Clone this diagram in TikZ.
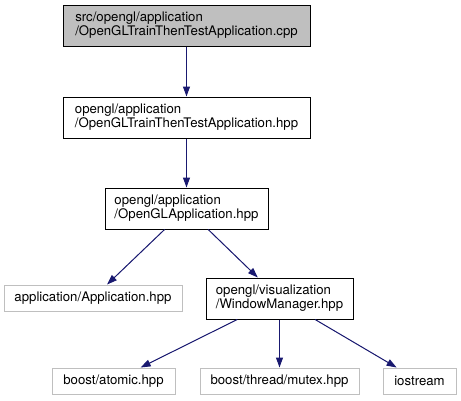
\documentclass[tikz,border=0pt]{standalone}
\usepackage{fontspec}
\setmainfont{TeX Gyre Heros}
\usetikzlibrary{arrows.meta}

\definecolor{edgeblue}{HTML}{191970}
\definecolor{graybox}{HTML}{BFBFBF}

\begin{document}
\begin{tikzpicture}[
  x=1pt, y=-1pt,
  >={Stealth[length=10pt,width=7pt,inset=0pt]},
  every node/.style={font=\fontsize{13.2}{14}\selectfont},
  file/.style={draw, line width=1pt, inner sep=0pt, align=left,
               minimum height=41pt},
  ext/.style={draw=graybox, line width=1pt, inner sep=0pt,
              minimum height=26pt},
  dep/.style={->, draw=edgeblue, fill=edgeblue, line width=1pt},
]
\useasboundingbox (0,0) rectangle (461,400);

% main chain
\node[file, fill=graybox, minimum width=247pt] (cpp) at (186.5, 25.5)
  {src/opengl/application\\/OpenGLTrainThenTestApplication.cpp};
\node[file, minimum width=247pt] (hpp) at (186.5, 117.5)
  {opengl/application\\/OpenGLTrainThenTestApplication.hpp};
\node[file, minimum width=163pt] (glapp) at (186.5, 208.5)
  {opengl/application\\/OpenGLApplication.hpp};

% second level
\node[ext, minimum width=178pt] (app) at (93, 298) {application/Application.hpp};
\node[file, minimum width=147pt] (winmgr) at (279.5, 298.5)
  {opengl/visualization\\/WindowManager.hpp};

% system headers
\node[ext, minimum width=123pt] (atomic) at (113.5, 381) {boost/atomic.hpp};
\node[ext, minimum width=159pt] (mutex) at (279.5, 381) {boost/thread/mutex.hpp};
\node[ext, minimum width=73pt] (iostr) at (419.5, 381) {iostream};

% includes
\draw[dep] (cpp) -- (hpp);
\draw[dep] (hpp) -- (glapp);
\draw[dep] (glapp) -- (app);
\draw[dep] (glapp) -- (winmgr);
\draw[dep] (winmgr) -- (atomic);
\draw[dep] (winmgr) -- (mutex);
\draw[dep] (winmgr) -- (iostr);
\end{tikzpicture}
\end{document}
